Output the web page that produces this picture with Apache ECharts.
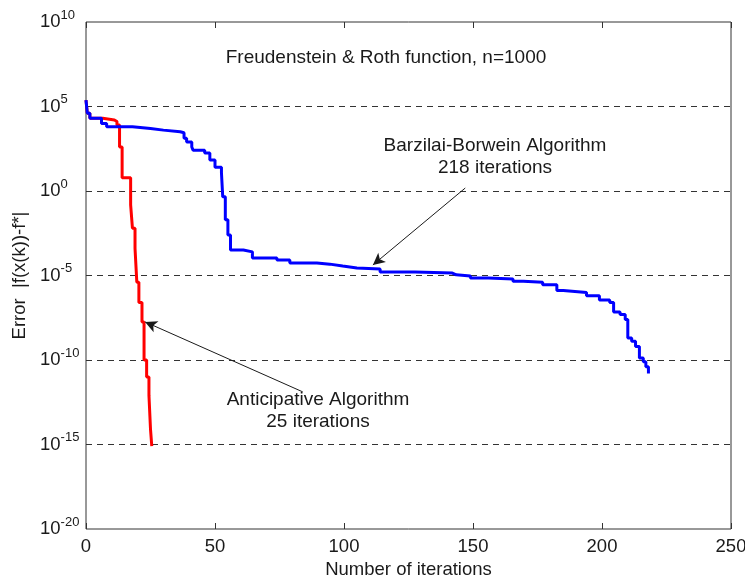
<!DOCTYPE html>
<html>
<head>
<meta charset="utf-8">
<script src="https://cdn.jsdelivr.net/npm/echarts@6/dist/echarts.min.js"></script>
<style>
  html, body { margin: 0; padding: 0; background: #fff; }
  #chart { width: 745px; height: 583px; }
</style>
</head>
<body>
<div id="chart"></div>
<script>
// x = iteration where the error steps to the new value, y = |f(x(k)) - f*|
const bbIter = [0, 0.5, 1.5, 6, 8, 18, 25, 30, 36.5, 38, 39, 41, 41.5, 46, 48, 50, 52.5, 53, 54, 55, 56, 61, 64.5, 74, 79, 89.5, 94.5, 99.5, 105, 114, 127.5, 142, 143.5, 149, 156, 165.5, 169.5, 177, 182.5, 185, 194, 199, 203, 204.5, 207, 209, 210, 211.5, 213, 214.5, 216, 217, 218]
const bbError = [2.4e5, 4e4, 2e4, 1e4, 6.3e3, 5e3, 4e3, 3.2e3, 2.8e3, 1.3e3, 8e2, 4e2, 2.6e2, 1.8e2, 68, 25, 12, 0.45, 0.02, 2.5e-3, 3.2e-4, 2.5e-4, 1.1e-4, 8.3e-5, 5.5e-5, 4.7e-5, 3.6e-5, 2.8e-5, 2.4e-5, 1.6e-5, 1.4e-5, 1.1e-5, 9.3e-6, 7e-6, 6.3e-6, 4.5e-6, 4e-6, 2.8e-6, 1.3e-6, 1e-6, 6.3e-7, 3.5e-7, 2.5e-7, 7e-8, 5e-8, 2.5e-8, 2e-9, 1.3e-9, 6.3e-10, 1.3e-10, 8e-11, 4e-11, 1.6e-11]

const apIter = [0, 0.5, 1.5, 6.5, 11, 12, 13, 14, 17.3, 18, 19, 19.7, 20.5, 21.7, 22.5, 23.5, 24.4, 25, 25.5]
const apError = [2.4e5, 4e4, 2e4, 1.6e4, 1.3e4, 8e3, 4e2, 6, 0.15, 6.3e-3, 4e-4, 4e-6, 2.5e-7, 1.8e-8, 1e-10, 1e-11, 8e-13, 8e-15, 8e-16]

const xTicks = [0, 50, 100, 150, 200, 250]
const yExponents = [-20, -15, -10, -5, 0, 5, 10]

const pairs = (xs, ys) => xs.map((x, i) => [x, ys[i]])

const font = 'Liberation Sans, Arial, sans-serif'
const ink = '#1a1a1a'
const chart = echarts.init(document.getElementById('chart'))

const arrow = (from, to) => ({
  silent: true, symbol: ['none', 'arrow'], symbolSize: [9, 12],
  label: { show: false },
  itemStyle: { color: ink },
  lineStyle: { color: ink, width: 1, type: 'solid' },
  data: [[{ coord: from }, { coord: to }]]
})

const note = (text, x, y) => ({
  type: 'text', x: x, y: y, z: 10,
  style: { text: text, font: '19px ' + font, fill: ink, align: 'center', verticalAlign: 'middle' }
})

const option = {
  backgroundColor: '#fff',
  animation: false,
  grid: {
    left: 86, right: 14, top: 22, bottom: 54,
    outerBoundsMode: 'none',
    show: true, borderColor: '#333', borderWidth: 1, backgroundColor: 'transparent'
  },
  xAxis: [{
    type: 'value',
    min: xTicks[0], max: xTicks[xTicks.length - 1], interval: 50,
    name: 'Number of iterations', nameLocation: 'middle', nameGap: 30,
    nameTextStyle: { color: ink, fontFamily: font, fontSize: 18.5 },
    axisLine: { show: false },
    axisTick: { inside: true, length: 6, lineStyle: { color: '#333' } },
    axisLabel: { color: ink, fontFamily: font, fontSize: 18.5, margin: 8 },
    splitLine: { show: false }
  }, {
    type: 'value', position: 'top',
    min: xTicks[0], max: xTicks[xTicks.length - 1], interval: 50,
    axisLine: { show: false },
    axisTick: { inside: true, length: 6, lineStyle: { color: '#333' } },
    axisLabel: { show: false },
    splitLine: { show: false }
  }],
  yAxis: {
    type: 'log', logBase: 10,
    min: Math.pow(10, yExponents[0]), max: Math.pow(10, yExponents[yExponents.length - 1]),
    interval: 5,
    name: 'Error  |f(x(k))-f*|', nameLocation: 'middle', nameGap: 54,
    nameTextStyle: { color: ink, fontFamily: font, fontSize: 18.5 },
    axisLine: { show: false },
    axisTick: { show: false },
    axisLabel: {
      margin: 46, align: 'left',
      formatter: v => '{b|10}{s|' + Math.round(Math.log10(v)) + '}',
      rich: {
        b: { color: ink, fontFamily: font, fontSize: 18.5 },
        s: { color: ink, fontFamily: font, fontSize: 13, padding: [0, 0, 14, 0] }
      }
    },
    splitLine: {
      show: true, showMinLine: false, showMaxLine: false,
      lineStyle: { color: '#333', type: [6, 5], width: 1 }
    }
  },
  graphic: [
    note('Freudenstein & Roth function, n=1000', 386, 58),
    note('Barzilai-Borwein Algorithm', 495, 146),
    note('218 iterations', 495, 168),
    note('Anticipative Algorithm', 318, 400),
    note('25 iterations', 318, 422)
  ],
  series: [
    {
      type: 'line', step: 'end', showSymbol: false,
      data: pairs(apIter, apError),
      lineStyle: { color: '#ff0000', width: 3 },
      markLine: arrow([84, 1.3e-12], [22.9, 1.8e-8])
    },
    {
      type: 'line', step: 'end', showSymbol: false,
      data: pairs(bbIter, bbError),
      lineStyle: { color: '#0000ff', width: 3 },
      markLine: arrow([147, 1.5], [111.2, 4.2e-5])
    }
  ]
}
chart.setOption(option)
</script>
</body>
</html>
